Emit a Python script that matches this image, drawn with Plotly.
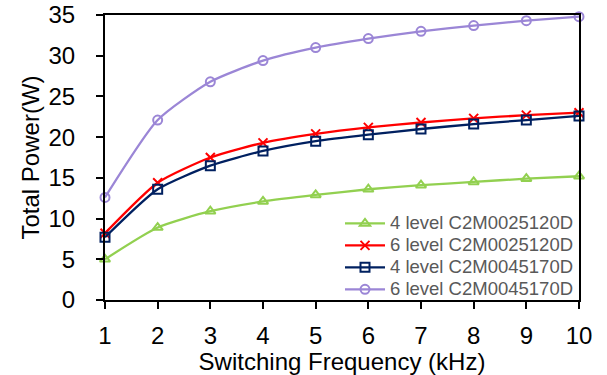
import plotly.graph_objects as go

freq = [1, 2, 3, 4, 5, 6, 7, 8, 9, 10]
green_4l_25120 = [5.0, 8.9, 10.9, 12.1, 12.9, 13.6, 14.1, 14.5, 14.9, 15.2]
red_6l_25120 = [8.2, 14.4, 17.5, 19.3, 20.4, 21.2, 21.8, 22.3, 22.7, 23.0]
navy_4l_45170 = [7.7, 13.6, 16.5, 18.3, 19.5, 20.3, 21.0, 21.6, 22.1, 22.6]
purple_6l_45170 = [12.6, 22.1, 26.8, 29.4, 31.0, 32.1, 33.0, 33.7, 34.3, 34.8]

series = [
    ("4 level C2M0025120D", green_4l_25120, "#92D050", "triangle-up-open"),
    ("6 level C2M0025120D", red_6l_25120, "#FF0000", "x-thin-open"),
    ("4 level C2M0045170D", navy_4l_45170, "#002060", "square-open"),
    ("6 level C2M0045170D", purple_6l_45170, "#9B86D6", "circle-open"),
]

fig = go.Figure()
for name, vals, col, sym in series:
    fig.add_trace(go.Scatter(
        x=freq, y=vals, name="<span style='font-size:18.5px'>" + name + "</span>",
        mode="lines+markers",
        line=dict(color=col, width=2.3, shape="spline", smoothing=0.6),
        marker=dict(symbol=sym, size=9, color=col, line=dict(color=col, width=2)),
        cliponaxis=False,
    ))

font = "Liberation Sans, Arial, sans-serif"
fig.update_layout(
    width=607, height=375,
    margin=dict(l=105, r=28, t=15, b=75, autoexpand=False),
    paper_bgcolor="white", plot_bgcolor="white",
    font=dict(family=font, color="black"),
    showlegend=True,
    legend=dict(x=1, y=-0.019, xanchor="right", yanchor="bottom",
                bgcolor="rgba(255,255,255,0)", borderwidth=0,
                font=dict(size=14.6, color="#595959", family=font),
                tracegroupgap=0, itemwidth=40),
)
fig.update_xaxes(
    range=[1, 10], tickvals=freq, showgrid=False, zeroline=False,
    showline=True, linecolor="black", linewidth=2, mirror=True,
    ticks="outside", ticklen=7, tickwidth=2, tickcolor="black",
    tickfont=dict(size=24, family=font), ticklabelstandoff=6,
    ticklabeloverflow="allow", automargin=False,
    title=dict(text="Switching Frequency (kHz)", font=dict(size=24, family=font), standoff=0),
)
fig.update_yaxes(
    range=[0, 35], tickvals=[0, 5, 10, 15, 20, 25, 30, 35], showgrid=False, zeroline=False,
    showline=True, linecolor="black", linewidth=2, mirror=True,
    ticks="outside", ticklen=7, tickwidth=2, tickcolor="black",
    tickfont=dict(size=24, family=font), ticklabelstandoff=16,
    ticklabeloverflow="allow", automargin=False,
    title=dict(text="Total Power(W)", font=dict(size=24, family=font), standoff=2),
)
fig.write_html("out.html", config={"displayModeBar": False},
               post_script="document.body.style.margin='0';")
